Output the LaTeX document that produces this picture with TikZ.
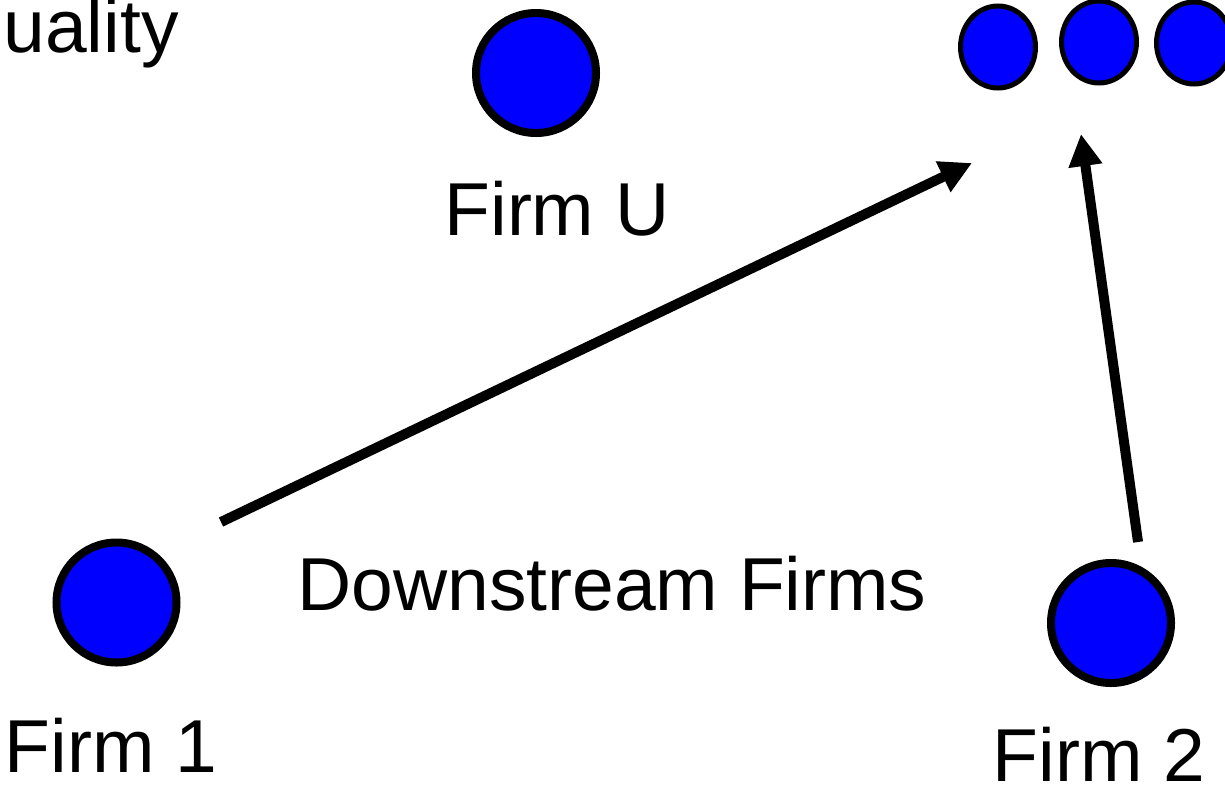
\documentclass[tikz,border=0pt]{standalone}
\usepackage{fontspec}
\setmainfont{Liberation Sans}
\usetikzlibrary{arrows.meta,shapes.geometric}
\begin{document}
\begin{tikzpicture}[x=1pt,y=-1pt,
  firm/.style={circle,draw=black,fill=blue,line width=8pt,minimum size=120pt,inner sep=0pt},
  small/.style={ellipse,draw=black,fill=blue,line width=5pt,minimum width=75pt,minimum height=82pt,inner sep=0pt},
  lbl/.style={inner sep=0pt,anchor=base,text depth=0pt,font=\fontsize{75}{90}\selectfont},
  conn/.style={line width=10pt,-{Triangle[length=32pt,width=32pt]}}]
\useasboundingbox (0,0) rectangle (1225,785);
\node[lbl,anchor=base west] (q) at (-55,52) {Quality};
\node[firm] (u) at (536,73) {};
\node[lbl] (ul) at (557,235) {Firm U};
\node[small] (s1) at (998,47) {};
\node[small] (s2) at (1099,42) {};
\node[small] (s3) at (1194,43) {};
\node[firm] (f1) at (116.5,602.5) {};
\node[lbl] (f1l) at (111,772) {Firm 1};
\node[firm] (f2) at (1111,623) {};
\node[lbl] (f2l) at (1099,781) {Firm 2};
\node[lbl] (ds) at (612,610) {Downstream Firms};
\coordinate (a1s) at (221,522);
\coordinate (a1e) at (972,163);
\coordinate (a2s) at (1138,542);
\coordinate (a2e) at (1081,134);
\draw[conn] (a1s) -- (a1e);
\draw[conn] (a2s) -- (a2e);
\end{tikzpicture}
\end{document}
